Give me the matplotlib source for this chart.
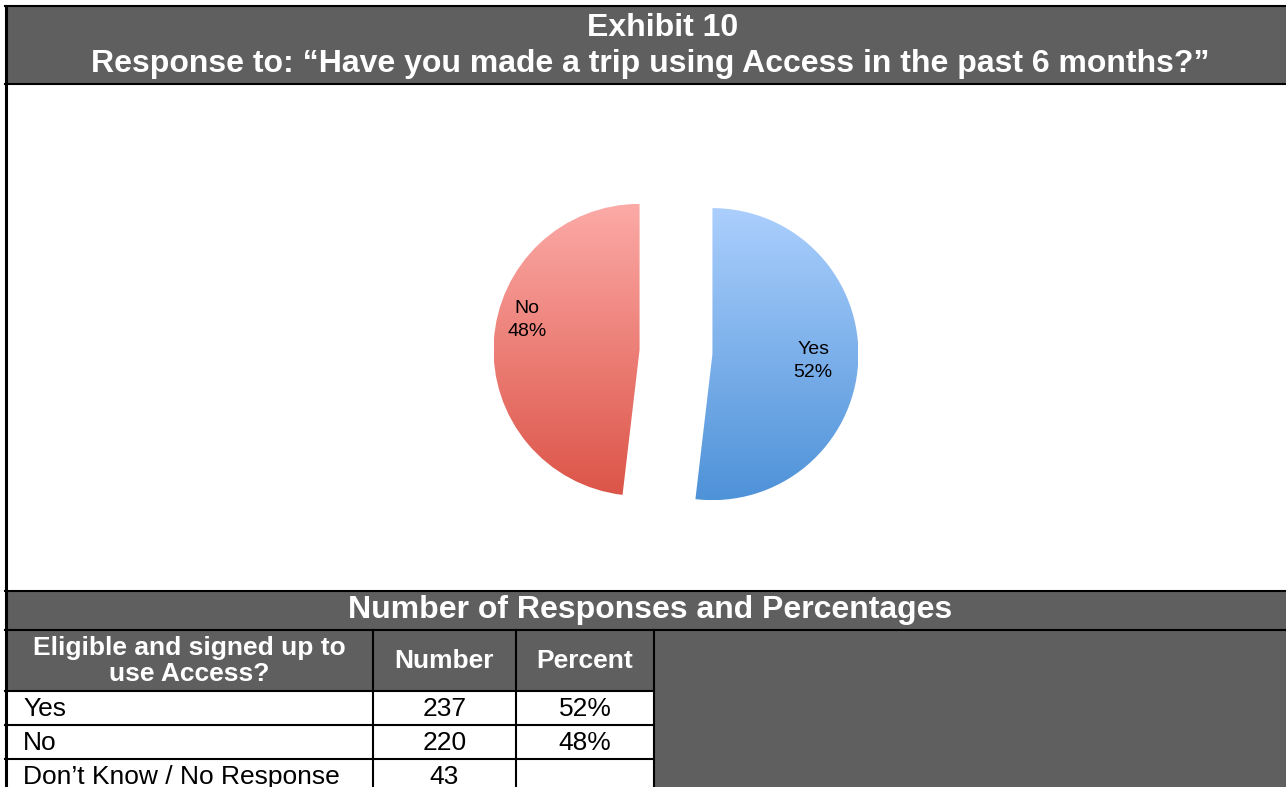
import numpy as np
import matplotlib
matplotlib.use("Agg")
import matplotlib.pyplot as plt
from matplotlib.patches import Rectangle
from matplotlib.colors import to_rgb

plt.rcParams["font.family"] = ["Liberation Sans", "DejaVu Sans"]

# data
title_top = "Exhibit 10"
title_q = "Response to: \u201cHave you made a trip using Access in the past 6 months?\u201d"
table_title = "Number of Responses and Percentages"
col_labels = ["Eligible and signed up to\nuse Access?", "Number", "Percent"]
row_labels = ["Yes", "No", "Don\u2019t Know / No Response"]
numbers = [237, 220, 43]
percents = ["52%", "48%", ""]
pie_labels = ["Yes", "No"]
pie_counts = [237, 220]
pie_top_colors = ["#abcffd", "#fcaaa6"]
pie_bot_colors = ["#4e92d8", "#dc5448"]

GRAY = "#5f5f5f"
W, H = 1286, 787

fig = plt.figure(figsize=(W / 100, H / 100), dpi=100)
bg = fig.add_axes([0, 0, 1, 1])
bg.set_xlim(0, W)
bg.set_ylim(H, 0)
bg.axis("off")

lw = 1.5
# header band
bg.add_patch(Rectangle((5, 6), W - 5, 78, facecolor=GRAY, edgecolor="none"))
bg.plot([5, W], [6, 6], color="black", lw=lw)
bg.plot([5, W], [84, 84], color="black", lw=lw)
bg.text(663, 28, title_top, color="white", fontsize=23, fontweight="bold", ha="center", va="center")
bg.text(650, 64, title_q, color="white", fontsize=23, fontweight="bold", ha="center", va="center")

# table band
bg.add_patch(Rectangle((5, 591), W - 5, 39, facecolor=GRAY, edgecolor="none"))
bg.plot([5, W], [591, 591], color="black", lw=lw)
bg.plot([5, W], [630, 630], color="black", lw=lw)
bg.text(650, 610, table_title, color="white", fontsize=23, fontweight="bold", ha="center", va="center")

# table
col_x = [5, 373, 516, 654]
row_y = [630, 691, 725, 759, 793]
bg.add_patch(Rectangle((5, 630), 649, 61, facecolor=GRAY, edgecolor="none"))
bg.add_patch(Rectangle((654, 630), W - 654, H - 630, facecolor=GRAY, edgecolor="none"))
for x in col_x[1:]:
    bg.plot([x, x], [630, H], color="black", lw=lw)
for y in row_y[1:4]:
    bg.plot([5, 654], [y, y], color="black", lw=lw)

for i, lab in enumerate(col_labels):
    cx = (col_x[i] + col_x[i + 1]) / 2
    bg.text(cx, 661, lab, color="white", fontsize=19, fontweight="bold",
            ha="center", va="center", linespacing=1.1)

for r, lab in enumerate(row_labels):
    cy = (row_y[r + 1] + row_y[r + 2]) / 2 + 1
    bg.text(23, cy, lab, color="black", fontsize=19, ha="left", va="center")
    bg.text((col_x[1] + col_x[2]) / 2, cy, str(numbers[r]), color="black", fontsize=19,
            ha="center", va="center")
    bg.text((col_x[2] + col_x[3]) / 2, cy, percents[r], color="black", fontsize=19,
            ha="center", va="center")

# left border
bg.plot([6, 6], [6, H], color="black", lw=2.2)

# pie
R = 146
cx_px, cy_px = 676, 352
half = 300
L = half / R
ax = fig.add_axes([(cx_px - half) / W, 1 - (cy_px + half) / H, 2 * half / W, 2 * half / H])
ax.set_facecolor("none")
ax.axis("off")
total = sum(pie_counts)
wedges, texts = ax.pie(pie_counts, startangle=90, counterclock=False, explode=[0.25, 0.25],
                       labels=[f"{l}\n{c / total:.0%}" for l, c in zip(pie_labels, pie_counts)],
                       labeldistance=0.6, wedgeprops=dict(facecolor="none", edgecolor="none"),
                       textprops=dict(fontsize=14, color="black", linespacing=1.45))

for w, top, bot in zip(wedges, pie_top_colors, pie_bot_colors):
    cx, cy = w.center
    t = np.linspace(0, 1, 256)[:, None]
    grad = (1 - t) * np.array(to_rgb(top)) + t * np.array(to_rgb(bot))
    grad = grad[:, None, :]
    im = ax.imshow(grad, extent=(cx - 1, cx + 1, cy - 1, cy + 1), origin="upper",
                   aspect="auto", zorder=1)
    im.set_clip_path(w)

texts[0].set_position((0.94, -0.06))
texts[0].set_ha("center")
texts[1].set_position((-1.02, 0.22))
texts[1].set_ha("center")
for tx in texts:
    tx.set_zorder(3)

ax.set_xlim(-L, L)
ax.set_ylim(-L, L)
ax.set_aspect("equal")

fig.savefig("out.png", dpi=100)
